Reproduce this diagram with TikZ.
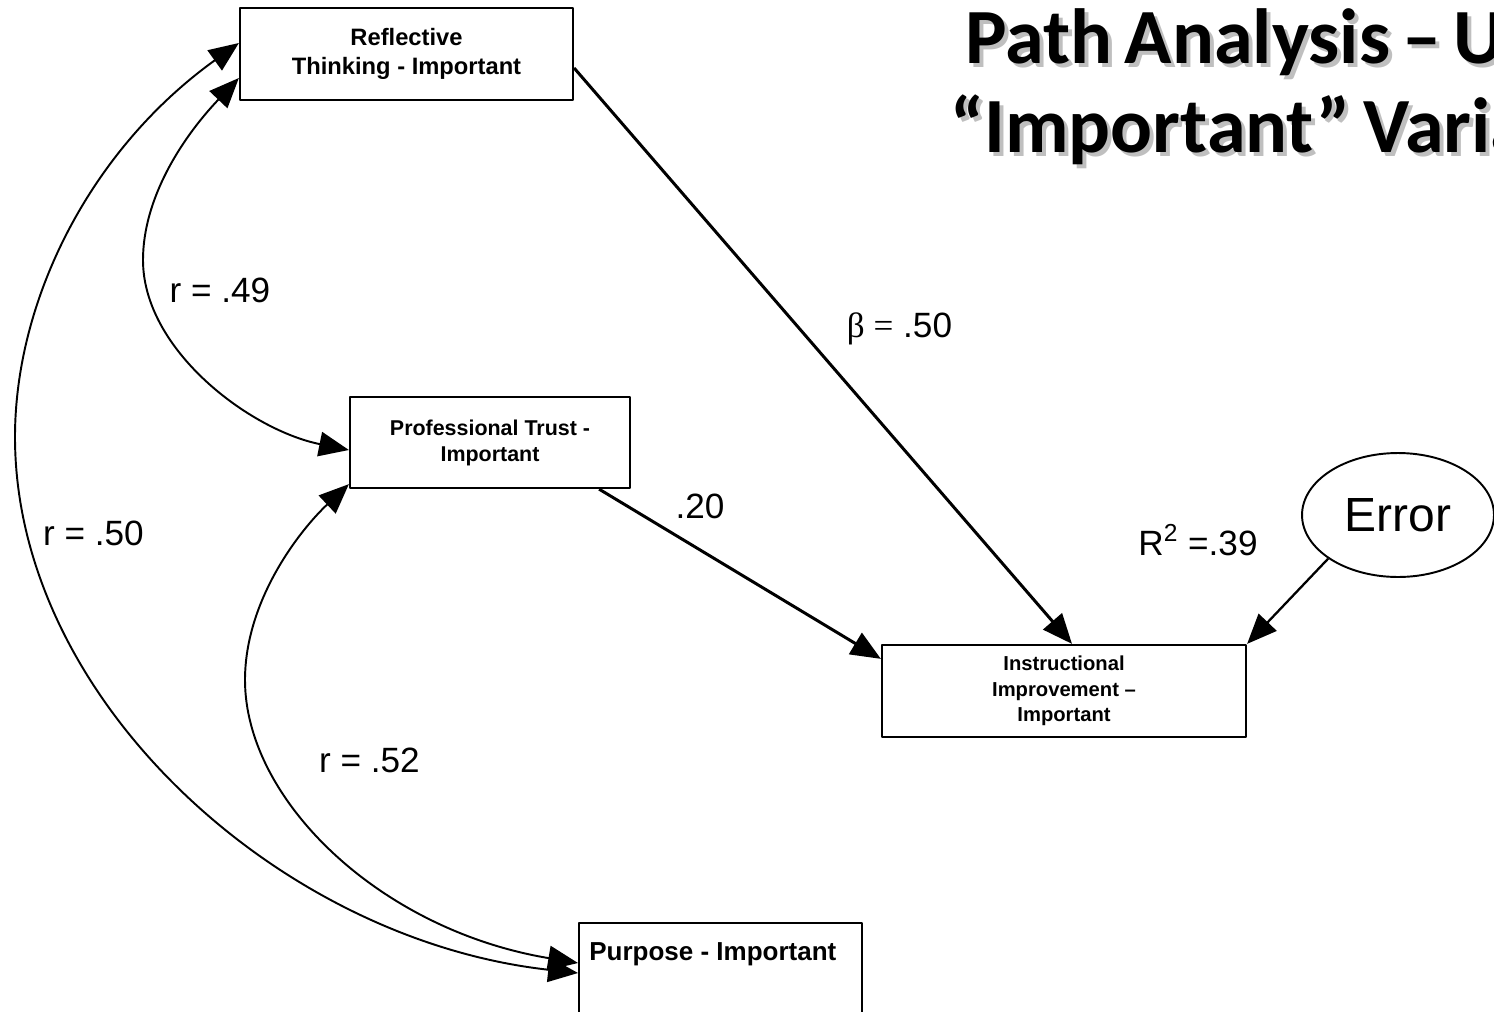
\documentclass[tikz,border=0pt]{standalone}
\usepackage{fontspec}
\setsansfont{Liberation Sans}
\newfontfamily\titlefont[WordSpace=0.7]{Carlito}
\newfontfamily\greekfont{Liberation Serif}
\usetikzlibrary{arrows.meta,shapes.geometric,calc}

\tikzset{
  varbox/.style={draw, line width=1.3pt, inner sep=0pt, align=center},
  coef/.style={anchor=base, inner sep=0pt, font=\sffamily\fontsize{20}{24}\selectfont},
  pathline/.style={-{Triangle[length=17pt,width=14pt]}, line width=1.7pt},
  corrline/.style={{Triangle[length=17pt,width=14pt]}-{Triangle[length=17pt,width=14pt]}, line width=1.1pt},
  titletext/.style={anchor=base west, inner sep=0pt, font=\titlefont\bfseries\fontsize{44.5}{52}\selectfont},
}

\begin{document}
\begin{tikzpicture}[x=0.02cm, y=-0.02cm, line join=round]
\useasboundingbox (0,0) rectangle (1494,1011);
% title, with its shadow
\node[titletext, text=black!25] (title1s) at (969,67) {Path Analysis – U};
\node[titletext] (title1) at (965,63) {Path Analysis – U};
\node[titletext, text=black!25] (title2s) at (954,156) {“Important”\,Varia};
\node[titletext] (title2) at (950,152) {“Important”\,Varia};

% variables
\node[varbox, minimum width=6.66cm, minimum height=1.84cm, font=\sffamily\bfseries\fontsize{13.5}{16.5}\selectfont] (refl) at (406.5,54) {Reflective\\Thinking - Important};
\node[varbox, minimum width=5.6cm, minimum height=1.82cm, font=\sffamily\bfseries\fontsize{12.2}{14.8}\selectfont] (prof) at (490,442.5) {Professional Trust -\\Important};
\node[varbox, minimum width=7.28cm, minimum height=1.84cm, font=\sffamily\bfseries\fontsize{11.5}{14.5}\selectfont] (instr) at (1064,691) {Instructional\\Improvement –\\Important};
\node[varbox, minimum width=5.66cm, minimum height=2.4cm, anchor=north west] (purp) at (578,922) {};
\node[anchor=base west, inner sep=0pt, font=\sffamily\bfseries\fontsize{14.8}{18}\selectfont] (purptxt) at ($(purp.north west)+(11,38)$) {Purpose - Important};
\node[draw, ellipse, line width=1.1pt, minimum width=3.84cm, minimum height=2.48cm, inner sep=0pt, font=\sffamily\fontsize{27.3}{32}\selectfont] (err) at (1398,515) {Error};

% paths
\draw[pathline] ($(refl.east)+(0,14)$) -- ($(instr.north)+(8,0)$);
\draw[pathline] ($(prof.south east)+(-32,0)$) -- ($(instr.north west)+(0,15)$);
\draw[pathline, line width=1.3pt] (err.212) -- (instr.north east);

% correlations
\draw[corrline] ($(refl.west)+(0,24)$) .. controls (180,140) and (143,200) .. (143,260) .. controls (143,350) and (250,430) .. ($(prof.west)+(0,7.5)$);
\draw[corrline] ($(refl.west)+(0,-11)$) .. controls (90,150) and (15,300) .. (15,437) .. controls (15,700) and (280,940) .. ($(purp.north west)+(0,51)$);
\draw[corrline] ($(prof.south west)+(0,-5)$) .. controls (300,530) and (245,600) .. (245,680) .. controls (245,800) and (380,930) .. ($(purp.north west)+(0,41)$);

% coefficients
\node[coef] (r49) at (220,302) {r = .49};
\node[coef] (r50) at (93.5,545) {r = .50};
\node[coef] (r52) at (369.5,772) {r = .52};
\node[coef] (beta) at (899.5,337) {{\greekfont β =} .50};
\node[coef] (b20) at (700,518) {.20};
\node[coef] (rsq) at (1198,555) {R\textsuperscript{2} =.39};
\end{tikzpicture}
\end{document}
